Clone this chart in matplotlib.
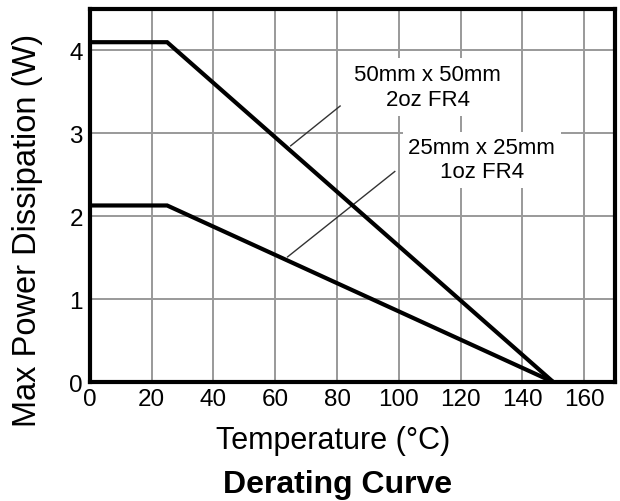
import matplotlib
matplotlib.use("Agg")
import matplotlib.pyplot as plt

# Data
temp_2oz = [0, 25, 150]
power_2oz = [4.1, 4.1, 0]
temp_1oz = [0, 25, 150]
power_1oz = [2.13, 2.13, 0]
x_ticks = [0, 20, 40, 60, 80, 100, 120, 140, 160]
y_ticks = [0, 1, 2, 3, 4]
label_2oz = "50mm x 50mm\n2oz FR4"
label_1oz = "25mm x 25mm\n1oz FR4"

plt.rcParams['font.family'] = ['Liberation Sans', 'DejaVu Sans']

fig = plt.figure(figsize=(6.2, 5.02), dpi=100)
ax = fig.add_axes([0.145, 0.237, 0.847, 0.743])

ax.set_xlim(0, 170)
ax.set_ylim(0, 4.5)
ax.set_xticks(x_ticks)
ax.set_yticks(y_ticks)
ax.grid(True, color='#999999', linewidth=1.4, zorder=0)
ax.set_axisbelow(True)
ax.tick_params(length=0, labelsize=17.5)
ax.tick_params(axis='x', pad=4)
ax.tick_params(axis='y', pad=5)

for s in ax.spines.values():
    s.set_linewidth(3)
    s.set_color('black')

ax.plot(temp_2oz, power_2oz, color='black', linewidth=3, zorder=5, solid_joinstyle='miter')
ax.plot(temp_1oz, power_1oz, color='black', linewidth=3, zorder=5, solid_joinstyle='miter')

bbox = dict(facecolor='white', edgecolor='none', pad=4)
ax.text(109.3, 3.56, label_2oz, ha='center', va='center', fontsize=16, bbox=bbox, zorder=3, linespacing=1.3)
ax.text(126.8, 2.68, label_1oz, ha='center', va='center', fontsize=16, bbox=bbox, zorder=3, linespacing=1.2)

ax.plot([65, 81], [2.85, 3.33], color='#333333', linewidth=1.0, zorder=4)
ax.plot([64, 98.7], [1.51, 2.54], color='#333333', linewidth=1.0, zorder=4)

fig.text(0.537, 1 - 449 / 502, "Temperature (°C)", ha='center', va='baseline', fontsize=22)
fig.text(0.045, 0.540, "Max Power Dissipation (W)", ha='center', va='center', rotation=90, fontsize=23.5)
fig.text(0.545, 1 - 493 / 502, "Derating Curve", ha='center', va='baseline', fontsize=23, fontweight='bold')

fig.savefig("out.png", dpi=100, facecolor='white')
